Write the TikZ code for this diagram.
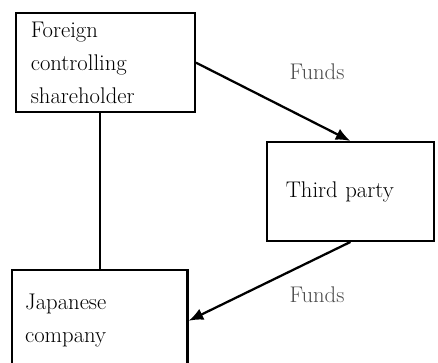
\documentclass[tikz,border=0pt]{standalone}
\usepackage{tikz}
\usetikzlibrary{arrows.meta, positioning}

\begin{document}
\begin{tikzpicture}[x=0.75pt, y=-0.75pt, >={Latex[length=11pt, width=9pt]},
    box/.style={draw, line width=1.7pt, rectangle, align=left, anchor=north west,
        font=\fontsize{17}{24.75}\selectfont, inner ysep=0pt},
    funds/.style={anchor=base, text=black!70, font=\fontsize{17}{20}\selectfont}]
\useasboundingbox (0, 0) rectangle (438, 363);
\node[box, minimum width=134pt, minimum height=74.25pt, text width=112pt, inner xsep=10pt] (foreign) at (15, 12)
    {Foreign\\controlling\\shareholder};
\node[box, minimum width=125pt, minimum height=74pt, text width=97pt, inner xsep=13pt] (third) at (266, 141)
    {Third party};
\node[box, minimum width=131.5pt, minimum height=76pt, text width=112pt, inner xsep=7pt] (japanese) at (11, 269)
    {Japanese\\company};
\node[funds] (fundsa) at (317, 80) {Funds};
\node[funds] (fundsb) at (317, 302) {Funds};
\draw[line width=1.7pt] (japanese.north) -- (japanese.north |- foreign.south);
\draw[->, line width=1.7pt] (foreign.east) -- (third.north);
\draw[->, line width=1.7pt] (third.south) -- (japanese.east);
\end{tikzpicture}
\end{document}
